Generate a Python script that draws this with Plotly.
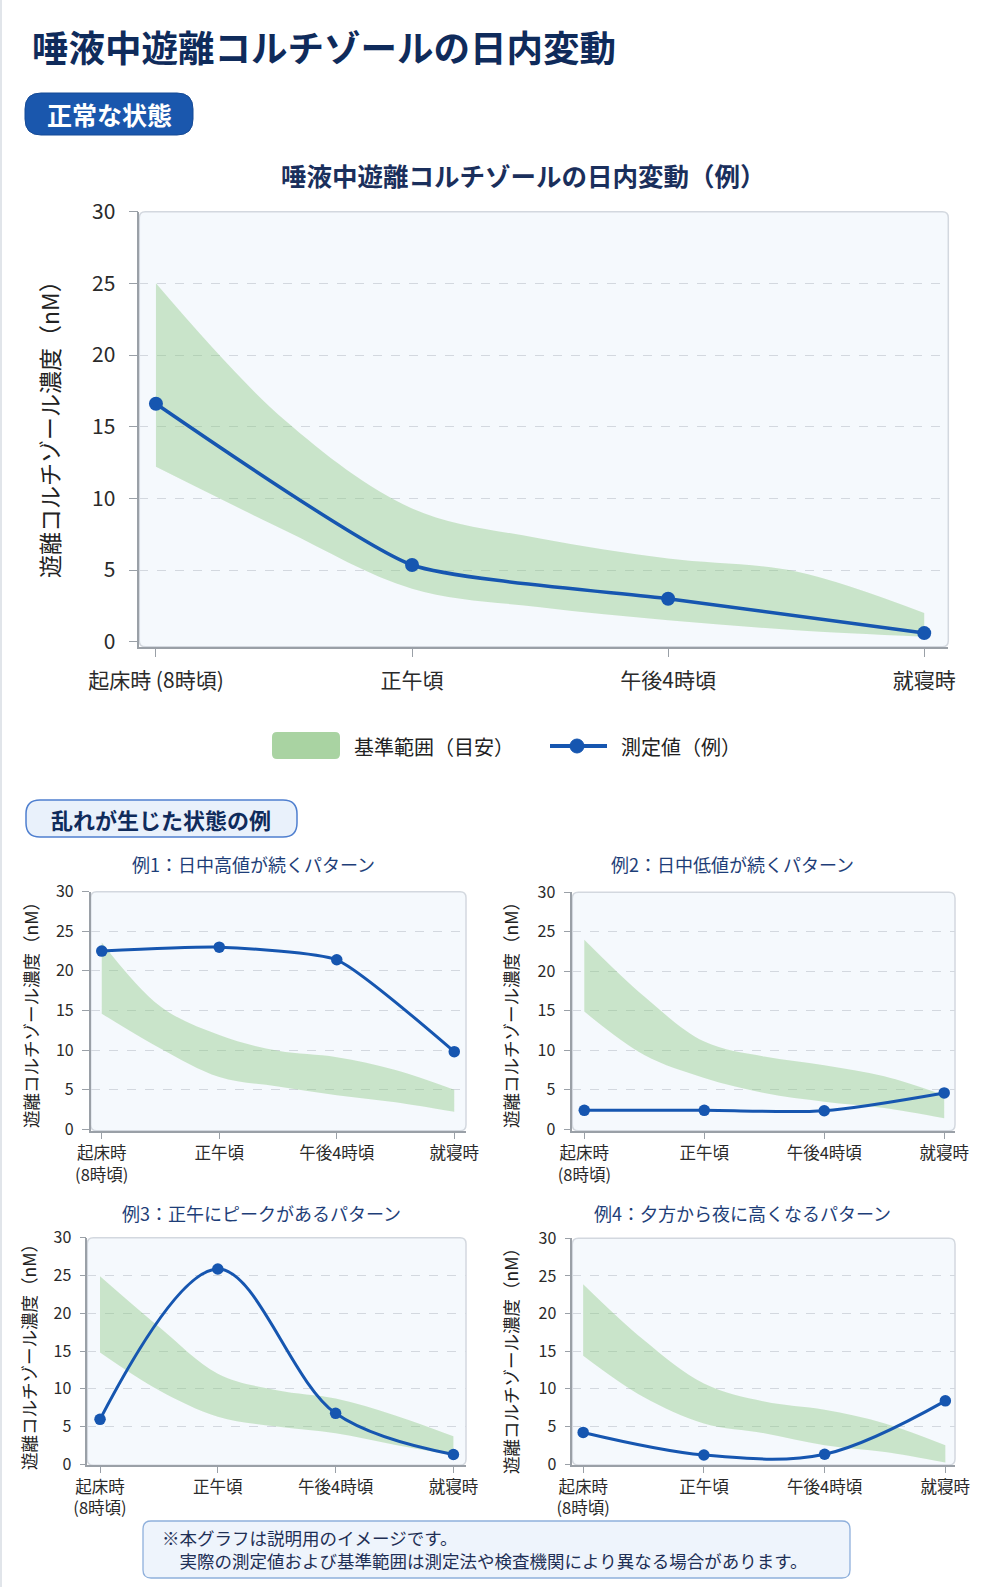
import plotly.graph_objects as go

W, H = 991, 1587
FONT = "Noto Sans CJK JP"
BLUE = "#1656b0"
BAND = "rgba(140,200,130,0.42)"
NAVY = "#0f2b5b"

# ---------------- data ----------------
categories_main = ["起床時 (8時頃)", "正午頃", "午後4時頃", "就寝時"]
categories_small = ["起床時<br>(8時頃)", "正午頃", "午後4時頃", "就寝時"]
time_idx = [0, 1, 2, 3]
band_idx = [0, 0.5, 1, 1.5, 2, 2.5, 3]
y_ticks = [0, 5, 10, 15, 20, 25, 30]
grid_vals = [5, 10, 15, 20, 25]

main_measured = [16.6, 5.35, 3.0, 0.6]
main_band_upper = [25.0, 15.5, 9.3, 7.2, 5.8, 4.9, 2.0]
main_band_lower = [12.2, 7.8, 3.7, 2.4, 1.5, 0.8, 0.35]

ex1_measured = [22.5, 23.0, 21.4, 9.8]
ex1_band_upper = [23.6, 15.5, 11.9, 9.9, 9.1, 7.5, 5.0]
ex1_band_lower = [14.6, 10.2, 6.6, 5.4, 4.3, 3.4, 2.2]

ex2_measured = [2.4, 2.4, 2.35, 4.6]
ex2_band_upper = [24.0, 16.8, 11.1, 9.2, 8.1, 6.7, 4.3]
ex2_band_lower = [14.9, 9.4, 6.5, 4.6, 3.5, 2.7, 1.4]

ex3_measured = [5.95, 25.85, 6.75, 1.3]
ex3_band_upper = [24.9, 18.2, 12.0, 9.8, 8.7, 6.5, 3.7]
ex3_band_lower = [14.8, 9.8, 6.3, 5.0, 4.1, 2.6, 1.2]

ex4_measured = [4.2, 1.2, 1.3, 8.4]
ex4_band_upper = [23.9, 16.5, 10.7, 8.3, 7.2, 5.4, 2.5]
ex4_band_lower = [14.4, 8.9, 5.4, 4.1, 2.5, 1.6, 0.2]

titles_small = ["例1：日中高値が続くパターン", "例2：日中低値が続くパターン",
                "例3：正午にピークがあるパターン", "例4：夕方から夜に高くなるパターン"]
y_title = "遊離コルチゾール濃度（nM）"
footnote_lines = ["※本グラフは説明用のイメージです。",
                  "　実際の測定値および基準範囲は測定法や検査機関により異なる場合があります。"]

# ---------------- helpers ----------------
def px(p):
    return p / W

def py(p):
    return 1 - p / H

def rrect(x0, y0, x1, y1, r):
    rx, ry = r / W, r / H
    X0, X1 = px(x0), px(x1)
    Y0, Y1 = py(y0), py(y1)  # Y0 top (bigger)
    return (f"M{X0+rx},{Y0} L{X1-rx},{Y0} Q{X1},{Y0} {X1},{Y0-ry} "
            f"L{X1},{Y1+ry} Q{X1},{Y1} {X1-rx},{Y1} L{X0+rx},{Y1} "
            f"Q{X0},{Y1} {X0},{Y1+ry} L{X0},{Y0-ry} Q{X0},{Y0} {X0+rx},{Y0} Z")

fig = go.Figure()
shapes = []
annotations = []

panels = [
    dict(meas=main_measured, up=main_band_upper, lo=main_band_lower, smooth=0.5,
         lw=3.5, ms=14, dom=(139.3, 948.3, 211.7, 646.7), xr=[-0.065, 3.094],
         yr=[-0.35, 30], cats=categories_main, tf=21, xf=21, xstand=5, ystand=9,
         tl=9),
    dict(meas=ex1_measured, up=ex1_band_upper, lo=ex1_band_lower, smooth=0.5,
         lw=3, ms=11.5, dom=(90.7, 466, 891.7, 1130.7), xr=[-0.094, 3.10],
         yr=[-0.18, 30], cats=categories_small, tf=16, xf=16.5, xstand=0, ystand=5,
         tl=7),
    dict(meas=ex2_measured, up=ex2_band_upper, lo=ex2_band_lower, smooth=0.8,
         lw=3, ms=11.5, dom=(572.3, 955, 892.3, 1130.7), xr=[-0.10, 3.09],
         yr=[-0.18, 30], cats=categories_small, tf=16, xf=16.5, xstand=0, ystand=5,
         tl=7),
    dict(meas=ex3_measured, up=ex3_band_upper, lo=ex3_band_lower, smooth=1.0,
         lw=3, ms=11.5, dom=(87.3, 466, 1237.7, 1465.3), xr=[-0.108, 3.107],
         yr=[-0.13, 30], cats=categories_small, tf=16, xf=16.5, xstand=0, ystand=5,
         tl=6),
    dict(meas=ex4_measured, up=ex4_band_upper, lo=ex4_band_lower, smooth=1.0,
         lw=3, ms=11.5, dom=(572.3, 955, 1238.3, 1465), xr=[-0.09, 3.08],
         yr=[-0.13, 30], cats=categories_small, tf=16, xf=16.5, xstand=0, ystand=5,
         tl=6),
]

layout_axes = {}
for i, p in enumerate(panels, start=1):
    xa = "x" if i == 1 else f"x{i}"
    ya = "y" if i == 1 else f"y{i}"
    fig.add_trace(go.Scatter(x=band_idx, y=p["lo"], mode="lines",
                             line=dict(width=0, shape="spline", smoothing=1),
                             xaxis=xa, yaxis=ya, showlegend=False, hoverinfo="skip"))
    fig.add_trace(go.Scatter(x=band_idx, y=p["up"], mode="lines",
                             line=dict(width=0, shape="spline", smoothing=1),
                             fill="tonexty", fillcolor=BAND,
                             xaxis=xa, yaxis=ya, showlegend=False, hoverinfo="skip"))
    fig.add_trace(go.Scatter(x=time_idx, y=p["meas"], mode="lines+markers",
                             line=dict(color=BLUE, width=p["lw"], shape="spline",
                                       smoothing=p["smooth"]),
                             marker=dict(size=p["ms"], color=BLUE),
                             xaxis=xa, yaxis=ya, showlegend=False))
    x0, x1, y0, y1 = p["dom"]
    xkey = "xaxis" if i == 1 else f"xaxis{i}"
    ykey = "yaxis" if i == 1 else f"yaxis{i}"
    layout_axes[xkey] = dict(
        domain=[px(x0), px(x1)], range=p["xr"], anchor=ya, automargin=False,
        tickmode="array", tickvals=time_idx, ticktext=p["cats"],
        showgrid=False, zeroline=False, showline=True, linecolor="#9aa0a7",
        linewidth=1.5, ticks="outside", ticklen=p["tl"], tickcolor="#9aa0a7",
        tickwidth=1.2, ticklabelstandoff=p["xstand"],
        tickfont=dict(family=FONT, size=p["xf"], color="#2a2a2a"), fixedrange=True)
    layout_axes[ykey] = dict(
        domain=[py(y1), py(y0)], range=p["yr"], anchor=xa, automargin=False,
        tickmode="array", tickvals=y_ticks, showgrid=False, zeroline=False,
        showline=True, linecolor="#9aa0a7", linewidth=1.5, ticks="outside",
        ticklen=p["tl"], tickcolor="#9aa0a7", tickwidth=1.2,
        ticklabelstandoff=p["ystand"],
        minor=dict(tickmode="array", tickvals=grid_vals, showgrid=True,
                   gridcolor="#d3d8df", griddash="dash", gridwidth=1, ticks=""),
        tickfont=dict(family=FONT, size=p["tf"], color="#2a2a2a"), fixedrange=True)
    # plot background + border (rounded)
    shapes.append(dict(type="path", path=rrect(x0, y0, x1, y1, 6), xref="paper",
                       yref="paper", fillcolor="#f5f9fd",
                       line=dict(color="#d3d8df", width=1.5), layer="below"))

# left page edge
shapes.append(dict(type="line", xref="paper", yref="paper", x0=px(1), x1=px(1),
                   y0=0, y1=1, line=dict(color="#e1e5ea", width=2), layer="below"))

# main title
annotations.append(dict(text="<b>唾液中遊離コルチゾールの日内変動</b>", x=px(30), y=py(47),
                        xref="paper", yref="paper", xanchor="left", yanchor="middle",
                        showarrow=False, font=dict(family=FONT, size=36.5, color=NAVY)))
# normal state pill
shapes.append(dict(type="path", path=rrect(25, 93, 193, 135, 16), xref="paper", yref="paper",
                   fillcolor="#1a57ad", line=dict(color="#154a96", width=1), layer="below"))
annotations.append(dict(text="<b>正常な状態</b>", x=px(109), y=py(114), xref="paper",
                        yref="paper", xanchor="center", yanchor="middle", showarrow=False,
                        font=dict(family=FONT, size=25, color="white")))
# main subtitle
annotations.append(dict(text="<b>唾液中遊離コルチゾールの日内変動（例）</b>", x=px(523), y=py(174),
                        xref="paper", yref="paper", xanchor="center", yanchor="middle",
                        showarrow=False, font=dict(family=FONT, size=25.5, color="#1a2f5c")))
# main y title
annotations.append(dict(text=y_title, x=px(49), y=py(424), xref="paper", yref="paper",
                        xanchor="center", yanchor="middle", textangle=-90, showarrow=False,
                        font=dict(family=FONT, size=23, color="#222222")))

# custom legend
shapes.append(dict(type="path", path=rrect(272, 732, 340, 759, 5), xref="paper", yref="paper",
                   fillcolor="#a9d3a2", line=dict(width=0)))
annotations.append(dict(text="基準範囲（目安）", x=px(352), y=py(746), xref="paper", yref="paper",
                        xanchor="left", yanchor="middle", showarrow=False,
                        font=dict(family=FONT, size=20, color="#222222")))
shapes.append(dict(type="line", xref="paper", yref="paper", x0=px(550), x1=px(607),
                   y0=py(746), y1=py(746), line=dict(color=BLUE, width=4)))
shapes.append(dict(type="circle", xref="paper", yref="paper", x0=px(570), x1=px(584),
                   y0=py(753), y1=py(739), fillcolor=BLUE, line=dict(color=BLUE, width=1)))
annotations.append(dict(text="測定値（例）", x=px(619), y=py(746), xref="paper", yref="paper",
                        xanchor="left", yanchor="middle", showarrow=False,
                        font=dict(family=FONT, size=20, color="#222222")))

# disorder section pill
shapes.append(dict(type="path", path=rrect(26, 800, 297, 837, 14), xref="paper", yref="paper",
                   fillcolor="#e9f1fb", line=dict(color="#4f7fcf", width=1.5), layer="below"))
annotations.append(dict(text="<b>乱れが生じた状態の例</b>", x=px(161), y=py(818.5), xref="paper",
                        yref="paper", xanchor="center", yanchor="middle", showarrow=False,
                        font=dict(family=FONT, size=22, color=NAVY)))

# small titles
title_pos = [(253, 864), (732, 864), (261, 1213), (742, 1213)]
for t, (tx, ty) in zip(titles_small, title_pos):
    annotations.append(dict(text=t, x=px(tx), y=py(ty), xref="paper", yref="paper",
                            xanchor="center", yanchor="middle", showarrow=False,
                            font=dict(family=FONT, size=18, color="#1e3e78")))
# small y titles
ytitle_pos = [(30, 1011), (510, 1011), (28, 1353), (510, 1357)]
for (tx, ty) in ytitle_pos:
    annotations.append(dict(text=y_title, x=px(tx), y=py(ty), xref="paper", yref="paper",
                            xanchor="center", yanchor="middle", textangle=-90,
                            showarrow=False, font=dict(family=FONT, size=17.5, color="#222222")))

# footnote box
shapes.append(dict(type="path", path=rrect(143, 1521, 850, 1578, 8), xref="paper", yref="paper",
                   fillcolor="#eef4fc", line=dict(color="#8fb0dc", width=1.3), layer="below"))
annotations.append(dict(text="<br>".join(footnote_lines), x=px(160), y=py(1549),
                        xref="paper", yref="paper", xanchor="left", yanchor="middle",
                        align="left", showarrow=False,
                        font=dict(family=FONT, size=17.5, color="#1e2f55")))

fig.update_layout(
    width=W, height=H, margin=dict(l=0, r=0, t=0, b=0, autoexpand=False),
    paper_bgcolor="white", plot_bgcolor="rgba(0,0,0,0)",
    showlegend=False, shapes=shapes, annotations=annotations,
    font=dict(family=FONT), **layout_axes,
)

fig.write_html("out.html", config={"displayModeBar": False})
